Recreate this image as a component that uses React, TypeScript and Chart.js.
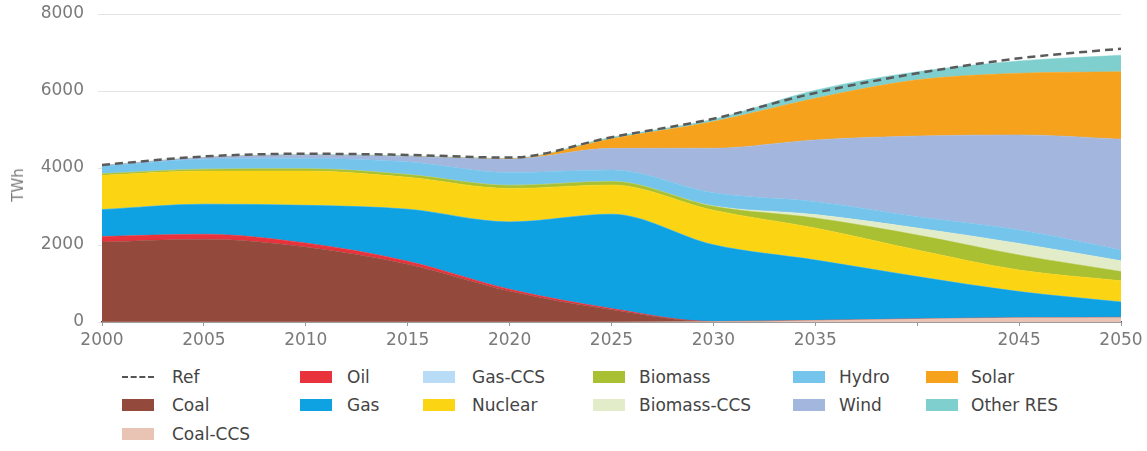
import React, { useEffect, useRef } from "react";
import { Chart, registerables } from "chart.js";

Chart.register(...registerables);

const years = [2000, 2005, 2010, 2015, 2020, 2025, 2030, 2035, 2040, 2045, 2050];
const refTotal = [4080, 4300, 4370, 4340, 4270, 4800, 5280, 5950, 6460, 6850, 7100];
const coalCCS = [0, 0, 0, 0, 0, 0, 10, 40, 80, 110, 120];
const coal = [2080, 2150, 1950, 1500, 800, 320, 0, 0, 0, 0, 0];
const oil = [140, 130, 100, 80, 50, 30, 5, 0, 0, 0, 0];
const gas = [700, 780, 980, 1350, 1750, 2450, 1990, 1570, 1100, 680, 400];
const gasCCS = [0, 0, 0, 0, 0, 0, 0, 0, 0, 0, 0];
const nuclear = [890, 860, 890, 830, 870, 760, 900, 830, 690, 560, 550];
const biomass = [40, 50, 60, 70, 80, 90, 100, 260, 390, 390, 240];
const biomassCCS = [0, 0, 0, 0, 0, 0, 10, 90, 180, 300, 280];
const hydro = [200, 260, 270, 330, 330, 300, 340, 335, 295, 350, 280];
const wind = [10, 40, 80, 140, 350, 560, 1160, 1605, 2095, 2470, 2880];
const solar = [0, 0, 0, 0, 10, 250, 690, 1080, 1460, 1600, 1750];
const otherRES = [10, 10, 20, 20, 10, 40, 60, 210, 210, 320, 430];
const yTicks = [0, 2000, 4000, 6000, 8000];
const hiddenXTick = 2040;

const series = [
  { label: "Coal-CCS", data: coalCCS, color: "#e9c3b4" },
  { label: "Coal", data: coal, color: "#93493c" },
  { label: "Oil", data: oil, color: "#e8323c" },
  { label: "Gas", data: gas, color: "#0ea2e2" },
  { label: "Gas-CCS", data: gasCCS, color: "#b8dcf5" },
  { label: "Nuclear", data: nuclear, color: "#fbd414" },
  { label: "Biomass", data: biomass, color: "#a9c033" },
  { label: "Biomass-CCS", data: biomassCCS, color: "#e3ecc9" },
  { label: "Hydro", data: hydro, color: "#74c4ec" },
  { label: "Wind", data: wind, color: "#a3b7de" },
  { label: "Solar", data: solar, color: "#f7a21d" },
  { label: "Other RES", data: otherRES, color: "#7fcfcf" },
];

const legendCols = [
  { sw: 122, tx: 172, items: ["Ref", "Coal", "Coal-CCS"] },
  { sw: 300, tx: 347, items: ["Oil", "Gas"] },
  { sw: 423, tx: 472, items: ["Gas-CCS", "Nuclear"] },
  { sw: 593, tx: 639, items: ["Biomass", "Biomass-CCS"] },
  { sw: 793, tx: 839, items: ["Hydro", "Wind"] },
  { sw: 926, tx: 971, items: ["Solar", "Other RES"] },
];
const legendRows = [377, 405, 434];

const FONT = "'DejaVu Sans', sans-serif";

export default function App() {
  const canvasRef = useRef<HTMLCanvasElement>(null);

  useEffect(() => {
    const datasets: any[] = [
      {
        label: "Ref",
        data: years.map((x, i) => ({ x, y: refTotal[i] })),
        stack: "ref",
        borderColor: "#5a5a5a",
        borderDash: [8, 5],
        borderWidth: 2.5,
        fill: false,
        pointRadius: 0,
        cubicInterpolationMode: "monotone",
      },
      ...series.map((s, idx) => ({
        label: s.label,
        data: years.map((x, i) => ({ x, y: s.data[i] })),
        stack: "mix",
        backgroundColor: s.color,
        borderColor: s.color,
        borderWidth: 0.5,
        fill: idx === 0 ? "origin" : "-1",
        pointRadius: 0,
        cubicInterpolationMode: "monotone",
      })),
    ];

    const chart = new Chart(canvasRef.current!, {
      type: "line",
      data: { datasets },
      options: {
        animation: false,
        responsive: false,
        layout: { padding: { left: 0, right: 26, top: 14, bottom: 8 } },
        plugins: { legend: { display: false }, tooltip: { enabled: false } },
        scales: {
          x: {
            type: "linear",
            min: 2000,
            max: 2050,
            afterFit: (s: any) => {
              s.height = 30;
            },
            afterBuildTicks: (s: any) => {
              s.ticks = years.map((v) => ({ value: v }));
            },
            ticks: {
              autoSkip: false,
              maxRotation: 0,
              padding: 4,
              color: "#7a7a7a",
              font: { family: FONT, size: 17 },
              callback: (v: any) => (v === hiddenXTick ? "" : String(v)),
            },
            grid: { drawOnChartArea: false, drawTicks: true, tickLength: 4, color: "#999" },
            border: { display: true, color: "#555", width: 1.5 },
          },
          y: {
            stacked: true,
            min: 0,
            max: 8000,
            afterFit: (s: any) => {
              s.width = 102;
              s.paddingTop = 0;
              s.paddingBottom = 0;
            },
            afterBuildTicks: (s: any) => {
              s.ticks = yTicks.map((v) => ({ value: v }));
            },
            ticks: {
              padding: 14,
              color: "#7a7a7a",
              font: { family: FONT, size: 17 },
              callback: (v: any) => String(v),
            },
            grid: { color: "#e4e4e4", lineWidth: 1, tickLength: 4 },
            border: { display: false },
          },
        },
      },
    });
    return () => chart.destroy();
  }, []);

  const colorOf = (name: string) => series.find((s) => s.label === name)?.color || "#000";

  return (
    <div
      style={{
        position: "absolute",
        left: 0,
        top: 0,
        width: 1147,
        height: 451,
        background: "#fff",
        fontFamily: FONT,
        overflow: "hidden",
      }}
    >
      <canvas ref={canvasRef} width={1147} height={360} style={{ position: "absolute", left: 0, top: 0 }} />
      <div
        style={{
          position: "absolute",
          left: 18,
          top: 185,
          transform: "translate(-50%, -50%) rotate(-90deg)",
          color: "#7a7a7a",
          fontSize: 15,
          whiteSpace: "nowrap",
        }}
      >
        TWh
      </div>
      {legendCols.map((col) =>
        col.items.map((name, r) => (
          <React.Fragment key={name}>
            {name === "Ref" ? (
              <div
                style={{
                  position: "absolute",
                  left: col.sw,
                  top: legendRows[r] - 1,
                  width: 32,
                  height: 0,
                  borderTop: "2px dashed #555",
                }}
              />
            ) : (
              <div
                style={{
                  position: "absolute",
                  left: col.sw,
                  top: legendRows[r] - 6,
                  width: 32,
                  height: 12,
                  background: colorOf(name),
                }}
              />
            )}
            <div
              style={{
                position: "absolute",
                left: col.tx,
                top: legendRows[r] - 10,
                fontSize: 17,
                lineHeight: "20px",
                color: "#444",
                whiteSpace: "nowrap",
              }}
            >
              {name}
            </div>
          </React.Fragment>
        ))
      )}
    </div>
  );
}
